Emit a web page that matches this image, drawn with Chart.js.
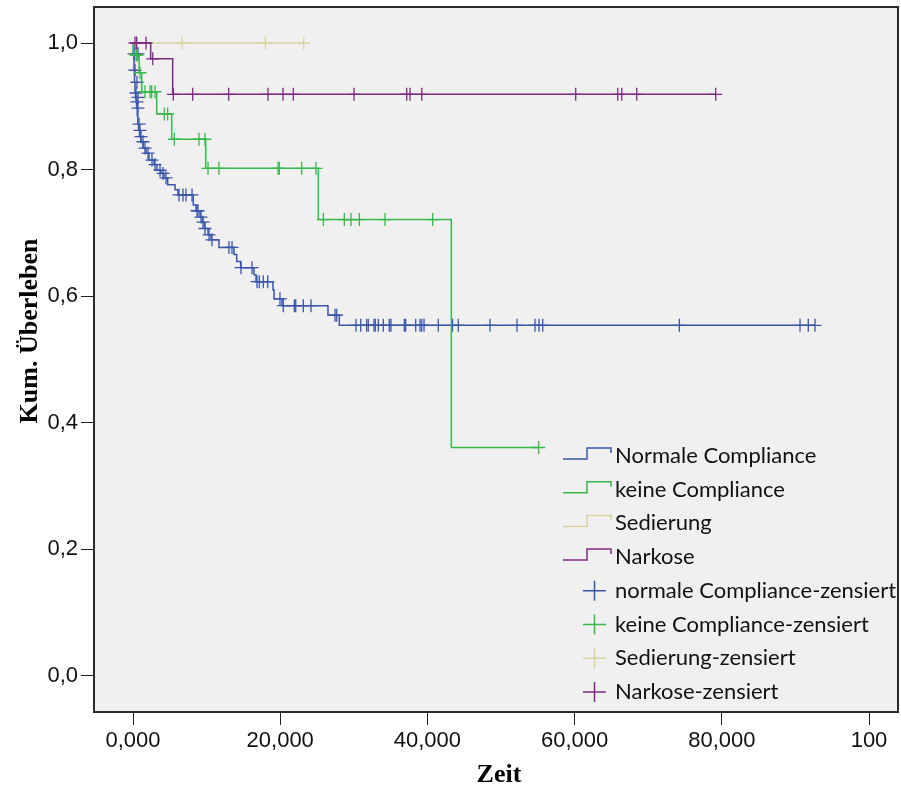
<!DOCTYPE html>
<html>
<head>
<meta charset="utf-8">
<script src="https://cdn.jsdelivr.net/npm/chart.js@4"></script>
<style>
  body { margin: 0; background: #fff; }
</style>
</head>
<body>
<canvas id="km" width="901" height="789"></canvas>
<script>
// Kaplan-Meier Kurven: Kum. Überleben über Zeit

const xTicks = [0, 20, 40, 60, 80, 100]
const yTicks = [0, 0.2, 0.4, 0.6, 0.8, 1.0]

const groupLabels = ["Normale Compliance", "keine Compliance", "Sedierung", "Narkose"]
const censLabels = ["normale Compliance-zensiert", "keine Compliance-zensiert", "Sedierung-zensiert", "Narkose-zensiert"]
const groupColors = ["#3b55aa", "#36b84b", "#d8d39e", "#7e2a84"]

// Normale Compliance
const normalTimes = [0, 0.04, 0.14, 0.20, 0.27, 0.34, 0.41, 0.48, 0.58, 0.65, 0.75, 0.88, 1.09, 1.36, 1.77, 2.17, 2.85, 3.26, 3.80, 4.21, 4.71, 5.71, 6.11, 8.19, 8.56, 9.10, 9.44, 9.71, 10.19, 10.60, 11.68, 13.72, 14.09, 14.63, 16.44, 16.71, 19.02, 19.16, 20.24, 26.49, 28.03, 92.66]
const normalSurv = [1.0, 0.983, 0.957, 0.938, 0.921, 0.914, 0.907, 0.897, 0.885, 0.872, 0.862, 0.852, 0.844, 0.834, 0.826, 0.815, 0.808, 0.799, 0.794, 0.787, 0.776, 0.768, 0.760, 0.744, 0.735, 0.725, 0.717, 0.707, 0.697, 0.689, 0.677, 0.666, 0.655, 0.645, 0.634, 0.623, 0.610, 0.596, 0.585, 0.570, 0.554, 0.554]
const normalCensTimes = [0.14, 0.27, 0.41, 0.54, 0.54, 0.68, 0.68, 0.68, 0.82, 0.95, 1.09, 1.36, 1.63, 2.04, 2.58, 2.99, 3.67, 4.08, 4.48, 6.25, 6.79, 7.20, 8.02, 8.70, 8.83, 9.24, 9.51, 9.78, 10.33, 10.73, 13.04, 13.45, 14.67, 16.17, 16.85, 17.16, 17.70, 18.30, 19.97, 20.42, 21.92, 22.11, 23.14, 24.18, 27.45, 27.68, 30.30, 30.94, 31.75, 31.97, 32.74, 32.92, 33.33, 34.01, 34.82, 35.05, 36.86, 37.05, 38.41, 38.99, 39.23, 39.54, 41.48, 43.41, 44.20, 48.51, 52.17, 54.62, 55.16, 55.67, 74.23, 90.63, 91.75, 92.66]
const normalCensSurv = [0.983, 0.957, 0.921, 0.938, 0.907, 0.983, 0.914, 0.897, 0.872, 0.862, 0.852, 0.844, 0.834, 0.826, 0.815, 0.808, 0.799, 0.794, 0.787, 0.760, 0.760, 0.760, 0.760, 0.735, 0.735, 0.725, 0.717, 0.707, 0.697, 0.689, 0.677, 0.677, 0.645, 0.645, 0.623, 0.623, 0.623, 0.623, 0.596, 0.585, 0.585, 0.585, 0.585, 0.585, 0.570, 0.570, 0.554, 0.554, 0.554, 0.554, 0.554, 0.554, 0.554, 0.554, 0.554, 0.554, 0.554, 0.554, 0.554, 0.554, 0.554, 0.554, 0.554, 0.554, 0.554, 0.554, 0.554, 0.554, 0.554, 0.554, 0.554, 0.554, 0.554, 0.554]

// keine Compliance
const keineTimes = [0, 0.07, 0.82, 1.18, 3.22, 5.26, 9.88, 25.18, 43.25, 55.12]
const keineSurv = [1.0, 0.981, 0.953, 0.923, 0.888, 0.848, 0.802, 0.721, 0.361, 0.361]
const keineCensTimes = [0.41, 0.54, 0.95, 1.63, 2.31, 2.54, 2.99, 4.25, 4.71, 5.61, 8.97, 9.78, 10.19, 11.68, 19.70, 19.88, 22.92, 24.86, 25.86, 28.71, 29.62, 30.75, 34.24, 40.72, 55.12]
const keineCensSurv = [0.981, 0.981, 0.953, 0.923, 0.923, 0.923, 0.923, 0.888, 0.888, 0.848, 0.848, 0.848, 0.802, 0.802, 0.802, 0.802, 0.802, 0.802, 0.721, 0.721, 0.721, 0.721, 0.721, 0.721, 0.361]

// Sedierung
const sedTimes = [0, 23.2]
const sedSurv = [1.0, 1.0]
const sedCensTimes = [6.66, 18.0, 23.2]
const sedCensSurv = [1.0, 1.0, 1.0]

// Narkose
const narkTimes = [0, 2.40, 5.39, 79.17]
const narkSurv = [1.0, 0.975, 0.919, 0.919]
const narkCensTimes = [0.27, 0.50, 1.77, 2.68, 5.48, 8.11, 13.0, 18.34, 20.38, 21.78, 30.03, 37.19, 37.64, 39.23, 60.15, 65.86, 66.40, 68.44, 79.17]
const narkCensSurv = [1.0, 1.0, 1.0, 0.975, 0.919, 0.919, 0.919, 0.919, 0.919, 0.919, 0.919, 0.919, 0.919, 0.919, 0.919, 0.919, 0.919, 0.919, 0.919]

function toPoints(times, values) {
  return times.map((t, i) => ({ x: t, y: values[i] }))
}

function stepLine(label, times, values, color, order) {
  return {
    label: label,
    data: toPoints(times, values),
    showLine: true,
    stepped: "before",
    borderColor: color,
    borderWidth: 1.5,
    pointRadius: 0,
    pointHoverRadius: 0,
    fill: false,
    order: order,
  }
}

function crossMarks(label, times, values, color, order) {
  return {
    label: label,
    data: toPoints(times, values),
    showLine: false,
    pointStyle: "cross",
    pointRadius: 6.5,
    pointHoverRadius: 6.5,
    borderColor: color,
    backgroundColor: color,
    borderWidth: 1.3,
    order: order,
  }
}

const lineSets = [
  [normalTimes, normalSurv],
  [keineTimes, keineSurv],
  [sedTimes, sedSurv],
  [narkTimes, narkSurv],
]
const censSets = [
  [normalCensTimes, normalCensSurv],
  [keineCensTimes, keineCensSurv],
  [sedCensTimes, sedCensSurv],
  [narkCensTimes, narkCensSurv],
]

// lower order is drawn on top
const drawOrder = [3, 2, 8, 1]

const datasets = []
lineSets.forEach((s, i) => datasets.push(stepLine(groupLabels[i], s[0], s[1], groupColors[i], drawOrder[i])))
censSets.forEach((s, i) => datasets.push(crossMarks(censLabels[i], s[0], s[1], groupColors[i], drawOrder[i])))

// Hintergrund, Rahmen, Achsentitel und Legende
const spssFrame = {
  id: "spssFrame",
  beforeDraw(chart) {
    const { ctx, chartArea: a } = chart
    ctx.save()
    ctx.fillStyle = "#f0f0f0"
    ctx.fillRect(a.left, a.top, a.right - a.left, a.bottom - a.top)
    ctx.restore()
  },
  afterDraw(chart) {
    const { ctx, chartArea: a } = chart
    ctx.save()
    ctx.strokeStyle = "#2b2b2b"
    ctx.lineWidth = 2
    ctx.strokeRect(a.left, a.top, a.right - a.left, a.bottom - a.top)

    // Achsentitel
    ctx.fillStyle = "#000"
    ctx.font = "bold 26px 'Liberation Serif'"
    ctx.textAlign = "center"
    ctx.textBaseline = "middle"
    ctx.fillText("Zeit", 499, 775)
    ctx.save()
    ctx.translate(30, 331)
    ctx.rotate(-Math.PI / 2)
    ctx.fillText("Kum. Überleben", 0, 0)
    ctx.restore()

    // Legende
    ctx.textAlign = "left"
    ctx.font = "22px Lato"
    const rowGap = 33.7
    groupLabels.forEach((label, i) => {
      const y = 456 + i * rowGap
      ctx.strokeStyle = groupColors[i]
      ctx.lineWidth = 1.5
      ctx.beginPath()
      ctx.moveTo(563, y + 3)
      ctx.lineTo(587, y + 3)
      ctx.lineTo(587, y - 8)
      ctx.lineTo(611, y - 8)
      ctx.lineTo(611, y - 3)
      ctx.stroke()
      ctx.fillStyle = "#111"
      ctx.fillText(label, 615, y)
    })
    censLabels.forEach((label, i) => {
      const y = 456 + (i + 4) * rowGap
      ctx.strokeStyle = groupColors[i]
      ctx.lineWidth = 1.5
      ctx.beginPath()
      ctx.moveTo(583, y)
      ctx.lineTo(606, y)
      ctx.moveTo(594.5, y - 10)
      ctx.lineTo(594.5, y + 10)
      ctx.stroke()
      ctx.fillStyle = "#111"
      ctx.fillText(label, 615, y)
    })
    ctx.restore()
  },
}

const tickFont = { family: "'Liberation Sans', Arial, sans-serif", size: 22 }

new Chart(document.getElementById("km"), {
  type: "scatter",
  data: { datasets: datasets },
  options: {
    responsive: false,
    animation: false,
    events: [],
    layout: { autoPadding: false, padding: { top: 7, right: 3, left: 0, bottom: 0 } },
    plugins: {
      legend: { display: false },
      tooltip: { enabled: false },
    },
    scales: {
      x: {
        type: "linear",
        min: -5.3,
        max: 103.94,
        afterBuildTicks: (scale) => {
          scale.ticks = xTicks.map((v) => ({ value: v }))
        },
        afterFit: (scale) => {
          scale.height = 77
          scale.paddingLeft = 0
          scale.paddingRight = 0
        },
        grid: { drawOnChartArea: false, drawTicks: true, tickLength: 13, color: "#222", lineWidth: 1 },
        border: { display: false },
        ticks: {
          color: "#111",
          font: tickFont,
          padding: 3,
          maxRotation: 0,
          callback: (v) => (v === 100 ? "100" : v.toFixed(3).replace(".", ",")),
        },
      },
      y: {
        type: "linear",
        min: -0.0569,
        max: 1.0569,
        afterBuildTicks: (scale) => {
          scale.ticks = yTicks.map((v) => ({ value: v }))
        },
        afterFit: (scale) => {
          scale.width = 94
          scale.paddingTop = 0
          scale.paddingBottom = 0
        },
        grid: { drawOnChartArea: false, drawTicks: true, tickLength: 13, color: "#222", lineWidth: 1 },
        border: { display: false },
        ticks: {
          color: "#111",
          font: tickFont,
          padding: 3,
          callback: (v) => v.toFixed(1).replace(".", ","),
        },
      },
    },
  },
  plugins: [spssFrame],
})
</script>
</body>
</html>
